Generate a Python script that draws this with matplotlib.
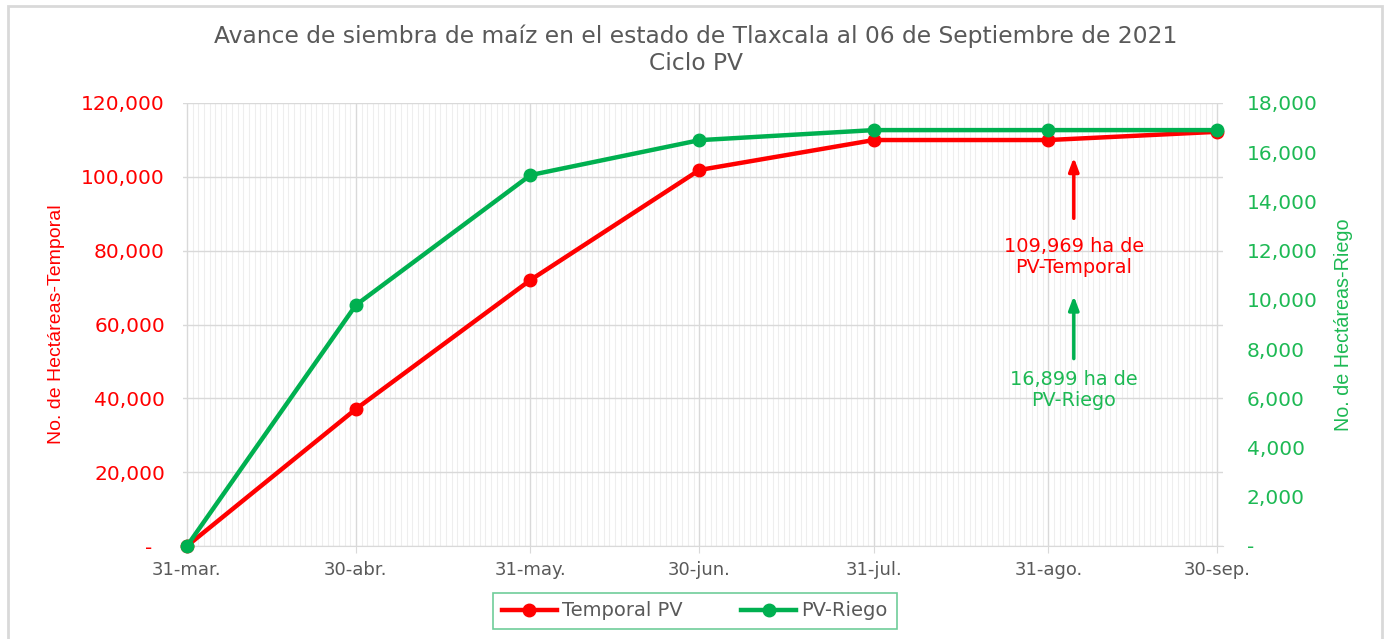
import matplotlib
matplotlib.use("Agg")
import matplotlib.pyplot as plt
import matplotlib.dates as mdates
from matplotlib.ticker import FuncFormatter, FixedLocator
from matplotlib.patches import Rectangle
import numpy as np
import datetime as dt

# ---- data ----
dates = ["2021-03-31", "2021-04-30", "2021-05-31", "2021-06-30",
         "2021-07-31", "2021-08-31", "2021-09-30"]
x_labels = ["31-mar.", "30-abr.", "31-may.", "30-jun.", "31-jul.", "31-ago.", "30-sep."]
temporal = [0, 37100, 72050, 101850, 109969, 109969, 112200]
riego = [0, 9790, 15070, 16490, 16899, 16899, 16899]
title = "Avance de siembra de maíz en el estado de Tlaxcala al 06 de Septiembre de 2021\nCiclo PV"
ann_temporal = "109,969 ha de\nPV-Temporal"
ann_riego = "16,899 ha de\nPV-Riego"

RED = "#FF0000"
GREEN = "#00B050"
GREEN_TXT = "#1DB954"
GRAY = "#595959"
FONT = "DejaVu Sans"

xd = [dt.datetime.strptime(d, "%Y-%m-%d") for d in dates]

fig = plt.figure(figsize=(13.87, 6.39), dpi=100)
fig.patch.set_facecolor("white")
# chart border
fig.patches.append(Rectangle((8/1387, -0.05), (1382-8)/1387, 1 - 6/639 + 0.05,
                             transform=fig.transFigure, fill=False,
                             edgecolor="#D9D9D9", linewidth=2))

ax = fig.add_axes([183/1387, 1-546/639, (1223-183)/1387, (546-103)/639])
ax2 = ax.twinx()

ax.set_xlim(mdates.date2num(dt.datetime(2021, 3, 30, 7)), mdates.date2num(dt.datetime(2021, 10, 1, 0)))
ax.set_ylim(0, 120000)
ax2.set_ylim(0, 18000)

# grid
minor_days = [mdates.date2num(dt.datetime(2021, 3, 31) + dt.timedelta(days=i)) for i in range(0, 184)]
ax.xaxis.set_minor_locator(FixedLocator(minor_days))
ax.xaxis.set_major_locator(FixedLocator(mdates.date2num(xd)))
ax.set_xticklabels(x_labels)
ax.grid(which="minor", axis="x", color="#EEEEEE", linewidth=0.8)
ax.grid(which="major", axis="x", color="#D9D9D9", linewidth=1.0)
ax.grid(which="major", axis="y", color="#D9D9D9", linewidth=1.0)
ax.set_axisbelow(True)
ax.set_yticks(np.arange(0, 120001, 20000))
ax2.set_yticks(np.arange(0, 18001, 2000))

ax.yaxis.set_major_formatter(FuncFormatter(lambda v, p: "-  " if v == 0 else f"{int(v):,}"))
ax2.yaxis.set_major_formatter(FuncFormatter(lambda v, p: "-" if v == 0 else f"{int(v):,}"))

for s in ["top", "right", "left"]:
    ax.spines[s].set_visible(False)
    ax2.spines[s].set_visible(False)
ax.spines["bottom"].set_color("#D9D9D9")
ax2.spines["bottom"].set_visible(False)

ax.tick_params(axis="x", which="major", length=5, color="#D9D9D9", labelsize=13,
               labelcolor=GRAY, pad=6)
ax.tick_params(axis="x", which="minor", length=0)
ax.tick_params(axis="y", length=0, labelsize=14.5, labelcolor=RED, pad=13)
ax2.tick_params(axis="y", length=0, labelsize=14.5, labelcolor=GREEN_TXT, pad=17)
for lab in ax.get_xticklabels() + ax.get_yticklabels() + ax2.get_yticklabels():
    lab.set_fontfamily(FONT)

ax.set_ylabel("No. de Hectáreas-Temporal", color=RED, fontsize=14,
              fontfamily="Liberation Sans", labelpad=12)
ax2.set_ylabel("No. de Hectáreas-Riego", color=GREEN_TXT, fontsize=14.2,
               fontfamily="Liberation Sans", labelpad=12)

l1, = ax.plot(xd, temporal, color=RED, linewidth=3.2, marker="o", markersize=9,
              label="Temporal PV", zorder=3)
l2, = ax2.plot(xd, riego, color=GREEN, linewidth=3.2, marker="o", markersize=9,
               label="PV-Riego", zorder=3)
for l in (l1, l2):
    l.set_clip_on(False)

# annotations
xa = mdates.date2num(dt.datetime(2021, 9, 4, 12))
ax.annotate("", xy=(xa, 106000), xytext=(xa, 88000),
            arrowprops=dict(arrowstyle="-|>,head_width=0.3,head_length=0.8",
                            color=RED, lw=2.5))
ax.text(xa, 78300, ann_temporal, color=RED, ha="center", va="center",
        fontsize=13.9, fontfamily=FONT, linespacing=1.1)
ax.annotate("", xy=(xa, 68500), xytext=(xa, 50000),
            arrowprops=dict(arrowstyle="-|>,head_width=0.3,head_length=0.8",
                            color=GREEN, lw=2.5))
ax.text(xa, 42300, ann_riego, color=GREEN_TXT, ha="center", va="center",
        fontsize=13.9, fontfamily=FONT, linespacing=1.1)

fig.text(696/1387, 1-50/639, title, ha="center", va="center", fontsize=16.8,
         color=GRAY, fontfamily=FONT, linespacing=1.25)

leg = fig.legend(handles=[l1, l2], loc="center", bbox_to_anchor=(695/1387, 1-611/639),
                 ncol=2, frameon=True, fancybox=False, edgecolor="#4CC080",
                 prop=dict(family=FONT, size=14), handlelength=2.8,
                 handletextpad=0.3, columnspacing=3.0, borderpad=0.45,
                 borderaxespad=0)
leg.get_frame().set_linewidth(1.2)
for t in leg.get_texts():
    t.set_color(GRAY)

fig.savefig("out.png", dpi=100, facecolor="white")
